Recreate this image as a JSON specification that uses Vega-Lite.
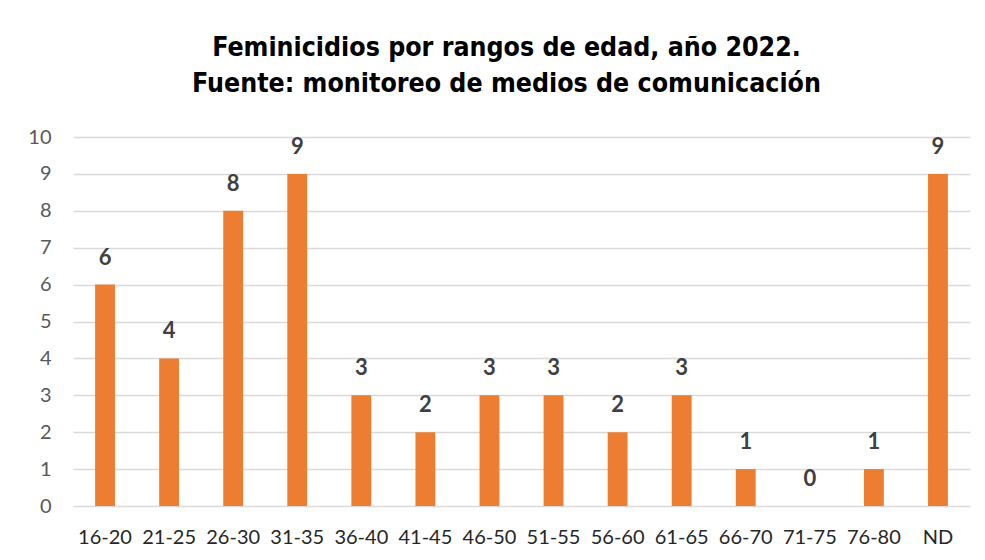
{
  "$schema": "https://vega.github.io/schema/vega-lite/v6.json",
  "autosize": "none",
  "width": 897,
  "height": 369,
  "padding": {"left": 73, "top": 137, "right": 15, "bottom": 54},
  "background": "white",
  "title": {
    "text": ["Feminicidios por rangos de edad, año 2022.", "Fuente: monitoreo de medios de comunicación"],
    "font": "'Liberation Sans Narrow', 'DejaVu Sans Condensed', sans-serif",
    "fontSize": 26.5,
    "fontWeight": "bold",
    "color": "#000000",
    "lineHeight": 36,
    "anchor": "middle",
    "dx": -15,
    "offset": 30
  },
  "data": {
    "values": [
      {"rango": "16-20", "valor": 6},
      {"rango": "21-25", "valor": 4},
      {"rango": "26-30", "valor": 8},
      {"rango": "31-35", "valor": 9},
      {"rango": "36-40", "valor": 3},
      {"rango": "41-45", "valor": 2},
      {"rango": "46-50", "valor": 3},
      {"rango": "51-55", "valor": 3},
      {"rango": "56-60", "valor": 2},
      {"rango": "61-65", "valor": 3},
      {"rango": "66-70", "valor": 1},
      {"rango": "71-75", "valor": 0},
      {"rango": "76-80", "valor": 1},
      {"rango": "ND", "valor": 9}
    ]
  },
  "encoding": {
    "x": {
      "field": "rango",
      "type": "nominal",
      "sort": null,
      "scale": {"paddingInner": 0.69, "paddingOuter": 0.345},
      "axis": {
        "title": null,
        "labelAngle": 0,
        "labelFont": "Lato",
        "labelFontSize": 20,
        "labelColor": "#262626",
        "labelPadding": 21,
        "ticks": false,
        "domain": false,
        "grid": false
      }
    },
    "y": {
      "field": "valor",
      "type": "quantitative",
      "scale": {"domain": [0, 10], "nice": false},
      "axis": {
        "title": null,
        "values": [0,1,2,3,4,5,6,7,8,9,10],
        "labelOverlap": false,
        "labelFont": "Lato",
        "labelFontSize": 20,
        "labelColor": "#595959",
        "labelPadding": 22,
        "ticks": false,
        "domain": false,
        "gridColor": "#d9d9d9",
        "gridWidth": 1.5
      }
    }
  },
  "layer": [
    {"mark": {"type": "bar", "color": "#ED7D31"}},
    {
      "mark": {"type": "text", "dy": -27, "font": "Lato", "fontSize": 22, "fontWeight": "bold", "color": "#404040"},
      "encoding": {"text": {"field": "valor", "type": "quantitative"}}
    }
  ],
  "config": {"view": {"stroke": null}}
}
